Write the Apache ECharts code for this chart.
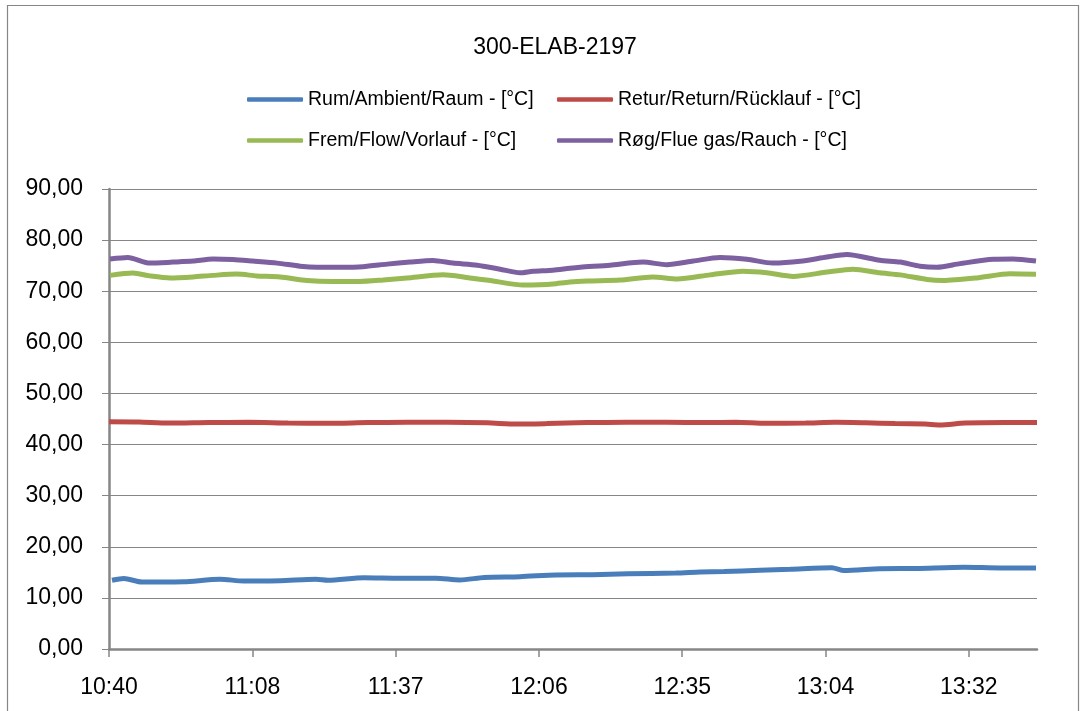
<!DOCTYPE html>
<html>
<head>
<meta charset="utf-8">
<script src="https://cdn.jsdelivr.net/npm/echarts@6/dist/echarts.min.js"></script>
<style>
html,body{margin:0;padding:0;background:#fff;}
#chart{width:1083px;height:711px;}
</style>
</head>
<body>
<div id="chart"></div>
<script>
// Time axis: minutes after 10:40, labels every 28.8 min
var tickLabels = ['10:40', '11:08', '11:37', '12:06', '12:35', '13:04', '13:32'];
var tickStep = 28.8;
var xMax = 186.5;

var seriesNames = ['Rum/Ambient/Raum - [°C]', 'Retur/Return/Rücklauf - [°C]', 'Frem/Flow/Vorlauf - [°C]', 'Røg/Flue gas/Rauch - [°C]'];

var rumT = [0.6, 3, 6.6, 10.2, 15.1, 22.3, 27.1, 34.4, 41.6, 44, 51.2, 58.5, 65.7, 70.5, 75.4, 82.6, 89.8, 97.1, 104.3, 113.9, 118.8, 123.6, 130.8, 136.9, 145.3, 147.7, 154.9, 162.2, 171.8, 179.1, 186.3];
var rumV = [13.45, 13.8, 13.1, 13.1, 13.15, 13.65, 13.3, 13.35, 13.65, 13.45, 13.95, 13.85, 13.85, 13.5, 14.0, 14.15, 14.5, 14.55, 14.7, 14.85, 15.05, 15.15, 15.4, 15.6, 15.9, 15.35, 15.7, 15.75, 16.0, 15.85, 15.85];

var returT = [0, 6, 12, 20, 28, 36, 44, 52, 60, 68, 76, 82, 88, 96, 104, 112, 120, 126, 132, 140, 146, 152, 158, 164, 167, 172, 180, 186.5];
var returV = [44.45, 44.4, 44.2, 44.3, 44.35, 44.2, 44.15, 44.3, 44.35, 44.35, 44.25, 44.0, 44.1, 44.3, 44.35, 44.35, 44.3, 44.35, 44.15, 44.2, 44.35, 44.25, 44.1, 44.0, 43.85, 44.2, 44.3, 44.3];

var fremT = [0.2, 4.8, 8.2, 12.3, 16.9, 20.9, 25.7, 29.7, 34.4, 39.8, 45, 50.4, 55.1, 59.9, 67.1, 71.9, 77.2, 83.2, 86.6, 89.2, 92.6, 96.1, 102.7, 109.3, 114.2, 120.8, 127.4, 132.2, 137.5, 144.3, 149.5, 154.9, 159, 164.4, 167.6, 174.4, 181.1, 186.3];
var fremV = [73.1, 73.55, 73.0, 72.6, 72.8, 73.1, 73.35, 73.0, 72.8, 72.1, 71.9, 71.9, 72.2, 72.6, 73.2, 72.7, 72.0, 71.2, 71.25, 71.4, 71.8, 72.0, 72.2, 72.8, 72.4, 73.2, 73.9, 73.6, 72.9, 73.75, 74.3, 73.6, 73.2, 72.3, 72.1, 72.6, 73.4, 73.3];

var rogT = [0.2, 3.8, 8.2, 12.9, 16.9, 20.9, 24.9, 28.9, 33.8, 38.4, 41.8, 46.4, 51, 55.9, 60.5, 65.1, 69.1, 74, 78.6, 82.6, 85.2, 89.2, 92.6, 94.7, 100.7, 107.3, 112.1, 117.4, 122.8, 128.2, 133.4, 138.9, 144.3, 148.3, 154.9, 159, 163, 166.4, 171, 177.7, 181.7, 186.3];
var rogV = [76.3, 76.6, 75.5, 75.7, 75.9, 76.3, 76.2, 75.9, 75.5, 74.9, 74.7, 74.7, 74.8, 75.3, 75.7, 76.0, 75.5, 75.1, 74.3, 73.6, 73.9, 74.1, 74.5, 74.7, 75.1, 75.7, 75.2, 75.9, 76.6, 76.25, 75.5, 75.85, 76.7, 77.2, 76.05, 75.7, 74.9, 74.7, 75.4, 76.25, 76.3, 75.9];

var colors = ['#4A7EBB', '#BE4B48', '#98B954', '#7D60A0'];

function pairs(t, v) { return t.map(function (x, i) { return [x, v[i]]; }); }
var tickPos = tickLabels.map(function (l, i) { return i * tickStep; });

var FONT = 'Liberation Sans';
var chart = echarts.init(document.getElementById('chart'), null, {renderer: 'canvas'});

var allData = [pairs(rumT, rumV), pairs(returT, returV), pairs(fremT, fremV), pairs(rogT, rogV)];

chart.setOption({
  animation: false,
  backgroundColor: '#ffffff',
  color: colors,
  title: {
    text: '300-ELAB-2197',
    left: 550,
    top: 31,
    textAlign: 'center',
    textStyle: {fontFamily: FONT, fontSize: 23, fontWeight: 'normal', color: '#000'}
  },
  legend: {
    data: seriesNames,
    left: 247,
    top: 88.5,
    width: 650,
    orient: 'horizontal',
    itemWidth: 56,
    itemHeight: 4.5,
    itemGap: 19,
    icon: 'roundRect',
    padding: 0,
    textStyle: {fontFamily: FONT, fontSize: 19.5, color: '#000', width: 230, lineHeight: 22, overflow: 'none'}
  },
  grid: {left: 109, right: 46, top: 189, bottom: 62, containLabel: false},
  xAxis: {
    type: 'value',
    min: 0,
    max: xMax,
    interval: tickStep,
    axisLine: {show: true, lineStyle: {color: '#868686', width: 2.5}},
    axisTick: {show: true, length: 8, customValues: tickPos, lineStyle: {color: '#868686', width: 1.5}},
    axisLabel: {
      customValues: tickPos,
      margin: 27,
      fontFamily: FONT, fontSize: 23, color: '#000',
      formatter: function (v) {
        var i = Math.round(v / tickStep);
        return tickLabels[i] || '';
      }
    },
    splitLine: {show: false}
  },
  yAxis: {
    type: 'value',
    min: 0,
    max: 90,
    interval: 10,
    axisLine: {show: true, lineStyle: {color: '#868686', width: 2.5}},
    axisTick: {show: true, length: 7, lineStyle: {color: '#868686', width: 1}},
    axisLabel: {
      margin: 26,
      fontFamily: FONT, fontSize: 23, color: '#000',
      formatter: function (v) { return v.toFixed(2).replace('.', ','); }
    },
    splitLine: {show: true, lineStyle: {color: '#868686', width: 1}}
  },
  graphic: [{
    type: 'rect',
    shape: {x: 7.5, y: 5.5, width: 1071, height: 800},
    style: {fill: 'none', stroke: '#868686', lineWidth: 1.2},
    silent: true,
    z: -1
  }],
  series: seriesNames.map(function (n, i) {
    return {
      name: n,
      type: 'line',
      data: allData[i],
      showSymbol: false,
      smooth: 0.25,
      lineStyle: {width: 5, color: colors[i]},
      itemStyle: {color: colors[i]}
    };
  })
});
</script>
</body>
</html>
